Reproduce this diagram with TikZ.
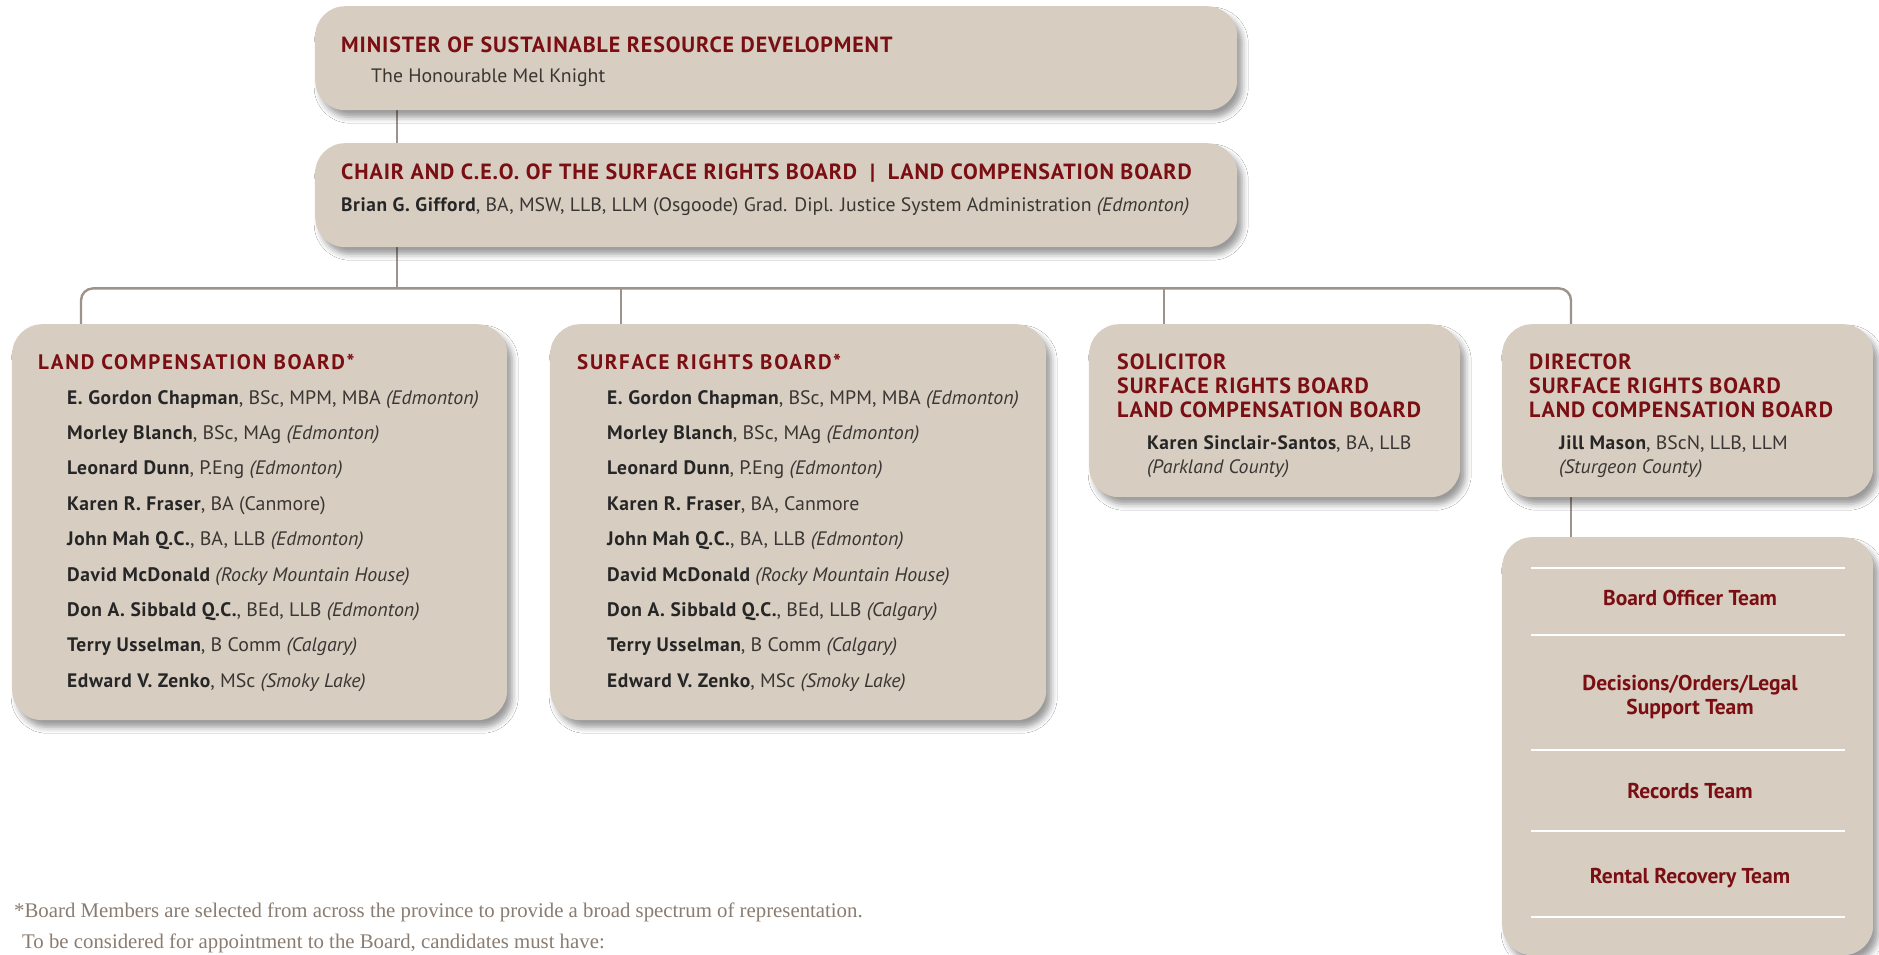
\documentclass[tikz,border=0pt]{standalone}
\usepackage{fontspec}
\usetikzlibrary{shadows.blur,backgrounds}
\setmainfont{PT Sans}
\newfontfamily\hfont{PT Sans}[LetterSpace=4]
\newfontfamily\hsfont{PT Sans}[LetterSpace=8]
\newfontfamily\rfont{PT Sans}[FakeStretch=1.02]
\newfontfamily\nfont{PT Sans}[LetterSpace=3]
\newfontfamily\ffont{Liberation Serif}
\definecolor{boxfill}{HTML}{D7CDC1}
\definecolor{hred}{HTML}{7A0E12}
\definecolor{conncol}{HTML}{9E938A}
\definecolor{txt}{HTML}{3A3633}
\definecolor{foot}{HTML}{8A7C70}
\newcommand{\nm}[1]{{\nfont\bfseries\color{black!85}#1}}
\newcommand{\pl}[1]{{\itshape #1}}
\tikzset{
  box/.style={fill=boxfill, rounded corners=30pt, inner sep=0pt, anchor=north west,
    blur shadow={shadow xshift=5pt, shadow yshift=-7pt, shadow blur radius=6pt, shadow opacity=40}},
  conn/.style={draw=conncol, line width=2.4pt},
  head/.style={anchor=base west, inner sep=0pt, text=hred, font=\hfont\bfseries\fontsize{22}{24}\selectfont},
  shead/.style={anchor=base west, inner sep=0pt, text=hred, font=\hsfont\bfseries\fontsize{21}{24}\selectfont},
  info/.style={anchor=base west, inner sep=0pt, text=txt, font=\rfont\fontsize{19.4}{24}\selectfont},
  mem/.style={anchor=base west, inner sep=0pt, text=txt, font=\rfont\fontsize{19.5}{24}\selectfont},
  team/.style={anchor=base, inner sep=0pt, text=hred, align=center, font=\bfseries\fontsize{21.5}{24}\selectfont},
  foottxt/.style={anchor=base west, inner sep=0pt, text=foot, font=\ffont\fontsize{20.8}{22}\selectfont},
  sep/.style={draw=white, line width=2.5pt}
}
\begin{document}
\begin{tikzpicture}[x=1pt,y=-1pt]
\useasboundingbox (0,0) rectangle (1879,954);
% boxes
\node[box, minimum width=922pt, minimum height=104pt] (min) at (315,6) {};
\node[box, minimum width=922pt, minimum height=104pt] (chair) at (315,143) {};
\node[box, minimum width=495pt, minimum height=396pt] (lcb) at (12,324) {};
\node[box, minimum width=496pt, minimum height=396pt] (srb) at (550,324) {};
\node[box, minimum width=371pt, minimum height=173pt] (sol) at (1089,324) {};
\node[box, minimum width=371pt, minimum height=173pt] (dir) at (1502,324) {};
\node[box, minimum width=371pt, minimum height=418pt] (teams) at (1502,537) {};
% connectors
\begin{scope}[on background layer]
\fill[white] (0,0) rectangle (1879,954);
\draw[conn] ([xshift=82pt]min.south west) -- ([xshift=82pt]chair.north west);
\coordinate (bus) at ([xshift=82pt, yshift=-41pt]chair.south west);
\draw[conn] ([xshift=82pt]chair.south west) -- (bus);
\draw[conn, rounded corners=12pt] ([xshift=69pt]lcb.north west) |- (bus) -| ([xshift=69pt]dir.north west);
\draw[conn] ([xshift=71pt]srb.north west) -- ([xshift=71pt, yshift=37pt]srb.north west);
\draw[conn] ([xshift=75pt]sol.north west) -- ([xshift=75pt, yshift=37pt]sol.north west);
\draw[conn] ([xshift=69pt]dir.south west) -- ([xshift=69pt]teams.north west);
\end{scope}
% minister
\node[head] (minh) at (341,52) {MINISTER OF SUSTAINABLE RESOURCE DEVELOPMENT};
\node[info] (minn) at (371,82) {The Honourable Mel Knight};
% chair
\node[head] (chh) at (341,179) {CHAIR AND C.E.O. OF THE SURFACE RIGHTS BOARD \ | \ LAND COMPENSATION BOARD};
\node[info] (chn) at (341,211) {\nm{Brian G. Gifford}, BA, MSW, LLB, LLM (Osgoode) Grad. Dipl. Justice System Administration \pl{(Edmonton)}};
% LCB
\node[shead] (lcbh) at (38,369) {LAND COMPENSATION BOARD*};
\node[mem] (l1) at (67,404.0) {\nm{E. Gordon Chapman}, BSc, MPM, MBA \pl{(Edmonton)}};
\node[mem] (l2) at (67,439.4) {\nm{Morley Blanch}, BSc, MAg \pl{(Edmonton)}};
\node[mem] (l3) at (67,474.8) {\nm{Leonard Dunn}, P.Eng \pl{(Edmonton)}};
\node[mem] (l4) at (67,510.2) {\nm{Karen R. Fraser}, BA (Canmore)};
\node[mem] (l5) at (67,545.6) {\nm{John Mah Q.C.}, BA, LLB \pl{(Edmonton)}};
\node[mem] (l6) at (67,581.0) {\nm{David McDonald} \pl{(Rocky Mountain House)}};
\node[mem] (l7) at (67,616.4) {\nm{Don A. Sibbald Q.C.}, BEd, LLB \pl{(Edmonton)}};
\node[mem] (l8) at (67,651.8) {\nm{Terry Usselman}, B Comm \pl{(Calgary)}};
\node[mem] (l9) at (67,687.2) {\nm{Edward V. Zenko}, MSc \pl{(Smoky Lake)}};
% SRB
\node[shead] (srbh) at (577,369) {SURFACE RIGHTS BOARD*};
\node[mem] (s1) at (607,404.0) {\nm{E. Gordon Chapman}, BSc, MPM, MBA \pl{(Edmonton)}};
\node[mem] (s2) at (607,439.4) {\nm{Morley Blanch}, BSc, MAg \pl{(Edmonton)}};
\node[mem] (s3) at (607,474.8) {\nm{Leonard Dunn}, P.Eng \pl{(Edmonton)}};
\node[mem] (s4) at (607,510.2) {\nm{Karen R. Fraser}, BA, Canmore};
\node[mem] (s5) at (607,545.6) {\nm{John Mah Q.C.}, BA, LLB \pl{(Edmonton)}};
\node[mem] (s6) at (607,581.0) {\nm{David McDonald} \pl{(Rocky Mountain House)}};
\node[mem] (s7) at (607,616.4) {\nm{Don A. Sibbald Q.C.}, BEd, LLB \pl{(Calgary)}};
\node[mem] (s8) at (607,651.8) {\nm{Terry Usselman}, B Comm \pl{(Calgary)}};
\node[mem] (s9) at (607,687.2) {\nm{Edward V. Zenko}, MSc \pl{(Smoky Lake)}};
% solicitor
\node[head] (solh1) at (1117,369) {SOLICITOR};
\node[head] (solh2) at (1117,393) {SURFACE RIGHTS BOARD};
\node[head] (solh3) at (1117,417) {LAND COMPENSATION BOARD};
\node[info] (soln) at (1147,449) {\nm{Karen Sinclair-Santos}, BA, LLB};
\node[info] (solp) at (1147,473) {\pl{(Parkland County)}};
% director
\node[head] (dirh1) at (1529,369) {DIRECTOR};
\node[head] (dirh2) at (1529,393) {SURFACE RIGHTS BOARD};
\node[head] (dirh3) at (1529,417) {LAND COMPENSATION BOARD};
\node[info] (dirn) at (1559,449) {\nm{Jill Mason}, BScN, LLB, LLM};
\node[info] (dirp) at (1559,473) {\pl{(Sturgeon County)}};
% teams
\foreach \yy in {568,635,750,831,917} \draw[sep] (1531,\yy) -- (1845,\yy);
\node[team] (t1) at (1690,605) {Board Officer Team};
\node[team] (t2) at (1690,690) {Decisions/Orders/Legal};
\node[team] (t2b) at (1690,714) {Support Team};
\node[team] (t3) at (1690,798) {Records Team};
\node[team] (t4) at (1690,883) {Rental Recovery Team};
% footnote
\node[foottxt] (f1) at (14,917) {*Board Members are selected from across the province to provide a broad spectrum of representation.};
\node[foottxt] (f2) at (22,948) {To be considered for appointment to the Board, candidates must have:};
\end{tikzpicture}
\end{document}
